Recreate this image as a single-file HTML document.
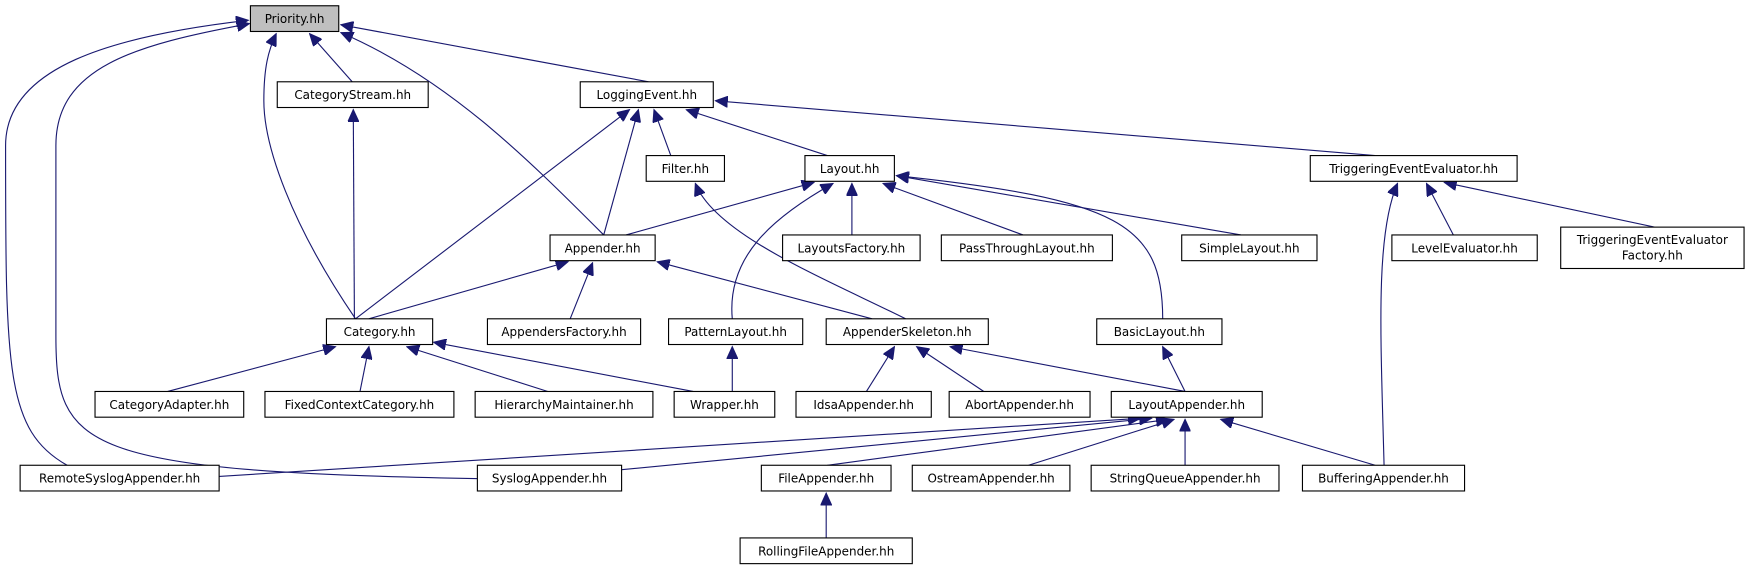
<!DOCTYPE html>
<html><head><meta charset="utf-8"><style>
html,body{margin:0;padding:0;background:#fff;}
svg{display:block;}
text{font-family:"DejaVu Sans","Liberation Sans",sans-serif;font-size:10.7px;fill:#000;text-anchor:middle;}
rect{fill:#fff;stroke:#000;stroke-width:1;}
path{fill:none;stroke:#191970;stroke-width:1;}
</style></head><body>
<svg width="1753" height="575" viewBox="0 0 1568 514" xmlns="http://www.w3.org/2000/svg">
<defs>
<marker id="a" markerUnits="userSpaceOnUse" markerWidth="12" markerHeight="10" viewBox="0 0 12 10" refX="11" refY="5" orient="auto">
<path d="M0,0 L11,5 L0,10 Z" style="fill:#191970;stroke:#191970"/>
</marker>
</defs>
<g marker-end="url(#a)">
<!-- Priority -->
<path d="M60,416 C5,385 5,330 5,130 C5,60 100,32 222,18"/>
<path d="M430,428 C70,422 50,400 50,300 L50,130 C50,60 120,40 223,21"/>
<path d="M318,285 C260,200 236,130 236,90 C236,60 240,45 247,30"/>
<path d="M315,73 L277,30"/>
<path d="M540,210 C470,140 400,70 305,29"/>
<path d="M580,73 L305,22"/>
<!-- LoggingEvent -->
<path d="M317,285 L316,98"/>
<path d="M318,285 L563,98"/>
<path d="M540,210 L571,98"/>
<path d="M600,139 L585,98"/>
<path d="M740,139 L614,98"/>
<path d="M1230,139 L640,90"/>
<!-- Layout -->
<path d="M560,210 L728,163"/>
<path d="M655,285 C650,230 690,195 745,164"/>
<path d="M762,210 L762,164"/>
<path d="M915,210 L790,164"/>
<path d="M1110,210 L802,157"/>
<path d="M1040,285 C1040,200 1000,178 802,157"/>
<!-- Filter -->
<path d="M810,285 C740,250 640,210 622,164"/>
<!-- Appender -->
<path d="M330,285 L508,234"/>
<path d="M510,285 L530,235"/>
<path d="M780,285 L588,234"/>
<!-- TEE -->
<path d="M1238,416 C1235,300 1230,210 1250,164"/>
<path d="M1300,210 L1276,164"/>
<path d="M1480,203 L1292,163"/>
<!-- Category -->
<path d="M150,350 L300,310"/>
<path d="M322,350 L330,310"/>
<path d="M490,350 L364,310"/>
<path d="M620,350 L388,306"/>
<path d="M655,350 L655,310"/>
<!-- AppenderSkeleton -->
<path d="M775,350 L800,310"/>
<path d="M880,350 L820,310"/>
<path d="M1060,350 L850,310"/>
<path d="M1060,350 L1040,310"/>
<!-- LayoutAppender -->
<path d="M196,426 L1020,374"/>
<path d="M556,420 L1030,374"/>
<path d="M740,416 L1045,375"/>
<path d="M920,416 L1050,375"/>
<path d="M1060,416 L1060,375"/>
<path d="M1230,416 L1092,375"/>
<path d="M739,481 L739,441"/>
</g>
<g>
<rect x="224" y="5" width="79" height="23" style="fill:#bfbfbf"/><text x="263.5" y="20.5">Priority.hh</text>
<rect x="248" y="73" width="135" height="23"/><text x="315.5" y="88.5">CategoryStream.hh</text>
<rect x="519" y="73" width="119" height="23"/><text x="578.5" y="88.5">LoggingEvent.hh</text>
<rect x="578" y="139" width="70" height="23"/><text x="613" y="154.5">Filter.hh</text>
<rect x="720" y="139" width="80" height="23"/><text x="760" y="154.5">Layout.hh</text>
<rect x="1172" y="139" width="185" height="23"/><text x="1264.5" y="154.5">TriggeringEventEvaluator.hh</text>
<rect x="492" y="210" width="94" height="23"/><text x="539" y="225.5">Appender.hh</text>
<rect x="700" y="210" width="123" height="23"/><text x="761.5" y="225.5">LayoutsFactory.hh</text>
<rect x="842" y="210" width="153" height="23"/><text x="918.5" y="225.5">PassThroughLayout.hh</text>
<rect x="1057" y="210" width="121" height="23"/><text x="1117.5" y="225.5">SimpleLayout.hh</text>
<rect x="1245" y="210" width="130" height="23"/><text x="1310" y="225.5">LevelEvaluator.hh</text>
<rect x="1396" y="203" width="164" height="37"/><text x="1478" y="218">TriggeringEventEvaluator</text><text x="1478" y="232">Factory.hh</text>
<rect x="292" y="285" width="95" height="23"/><text x="339.5" y="300.5">Category.hh</text>
<rect x="436" y="285" width="137" height="23"/><text x="504.5" y="300.5">AppendersFactory.hh</text>
<rect x="598" y="285" width="120" height="23"/><text x="658" y="300.5">PatternLayout.hh</text>
<rect x="739" y="285" width="145" height="23"/><text x="811.5" y="300.5">AppenderSkeleton.hh</text>
<rect x="981" y="285" width="112" height="23"/><text x="1037" y="300.5">BasicLayout.hh</text>
<rect x="85" y="350" width="133" height="23"/><text x="151.5" y="365.5">CategoryAdapter.hh</text>
<rect x="237" y="350" width="169" height="23"/><text x="321.5" y="365.5">FixedContextCategory.hh</text>
<rect x="425" y="350" width="159" height="23"/><text x="504.5" y="365.5">HierarchyMaintainer.hh</text>
<rect x="603" y="350" width="90" height="23"/><text x="648" y="365.5">Wrapper.hh</text>
<rect x="712" y="350" width="121" height="23"/><text x="772.5" y="365.5">IdsaAppender.hh</text>
<rect x="849" y="350" width="126" height="23"/><text x="912" y="365.5">AbortAppender.hh</text>
<rect x="994" y="350" width="135" height="23"/><text x="1061.5" y="365.5">LayoutAppender.hh</text>
<rect x="18" y="416" width="178" height="23"/><text x="107" y="431.5">RemoteSyslogAppender.hh</text>
<rect x="427" y="416" width="129" height="23"/><text x="491.5" y="431.5">SyslogAppender.hh</text>
<rect x="681" y="416" width="116" height="23"/><text x="739" y="431.5">FileAppender.hh</text>
<rect x="816" y="416" width="141" height="23"/><text x="886.5" y="431.5">OstreamAppender.hh</text>
<rect x="976" y="416" width="168" height="23"/><text x="1060" y="431.5">StringQueueAppender.hh</text>
<rect x="1165" y="416" width="145" height="23"/><text x="1237.5" y="431.5">BufferingAppender.hh</text>
<rect x="662" y="481" width="154" height="23"/><text x="739" y="496.5">RollingFileAppender.hh</text>
</g>
</svg>
</body></html>
